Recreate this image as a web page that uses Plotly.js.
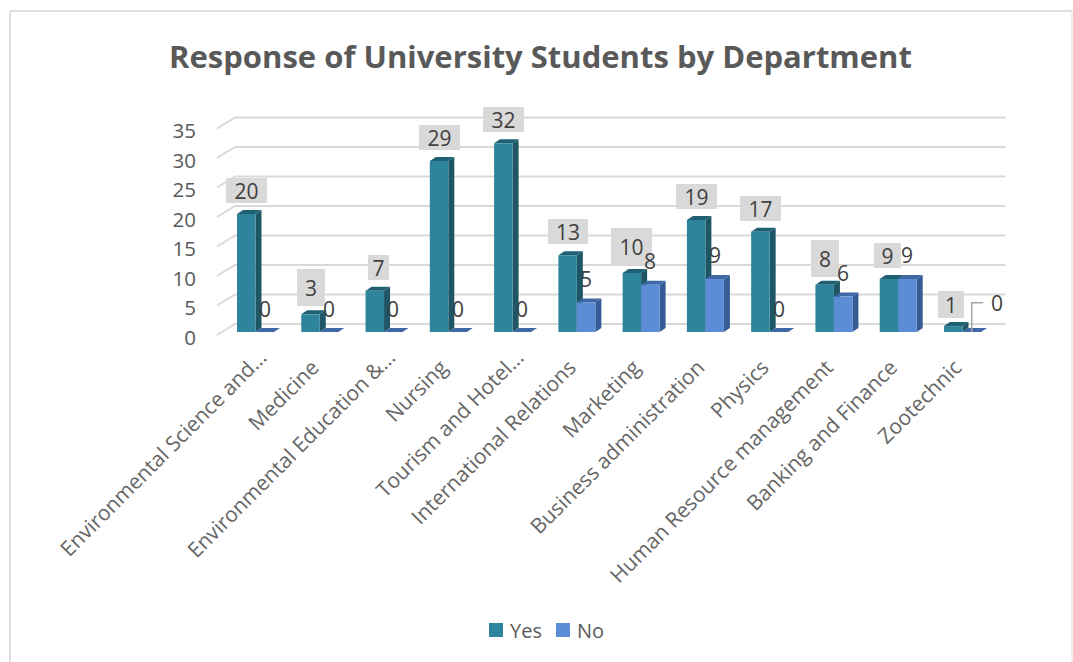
<!DOCTYPE html>
<html>
<head>
<meta charset="utf-8">
<title>Response of University Students by Department</title>
<script src="https://cdn.plot.ly/plotly-3.0.1.min.js"></script>
<style>
  html, body { margin: 0; padding: 0; background: #fff; }
  #chart { width: 1073px; height: 662px; }
</style>
</head>
<body>
<div id="chart"></div>
<script>
// Survey counts per department
const departments = [
  "Environmental Science and…", "Medicine", "Environmental Education &…", "Nursing",
  "Tourism and Hotel…", "International Relations", "Marketing", "Business administration",
  "Physics", "Human Resource management", "Banking and Finance", "Zootechnic"
];
const yesCounts = [20, 3, 7, 29, 32, 13, 10, 19, 17, 8, 9, 1];
const noCounts  = [0, 0, 0, 0, 0, 5, 8, 9, 0, 6, 9, 0];
const yTicks = [0, 5, 10, 15, 20, 25, 30, 35];
const seriesNames = ["Yes", "No"];

// Plot frame in pixels, and the pixel size of one axis unit
const frame = { left: 210, right: 1010, top: 110, bottom: 340 };
const pxPerCategory = 64.27, pxPerValue = 5.9;
const xLow = (frame.left - 255.5) / pxPerCategory;
const xHigh = xLow + (frame.right - frame.left) / pxPerCategory;
const yLow = -(frame.bottom - 332) / pxPerValue;
const yHigh = yLow + (frame.bottom - frame.top) / pxPerValue;

const barWidth = 18.5 / pxPerCategory;
const depthX = 6 / pxPerCategory, depthY = 4 / pxPerValue;      // extrusion of each bar
const wallX = 18 / pxPerCategory, wallTop = 8 / pxPerValue;     // offset of the back wall
const wallFront = -3 / pxPerValue;
const tickLabelDrop = 5.5 / pxPerValue;                         // value labels sit on the front edge

const colors = {
  yes: { front: "#2E849C", side: "#1E5666", top: "#1F6173" },
  no:  { front: "#5A8DD6", side: "#355C94", top: "#3F69A6" },
  grid: "#D9D9D9", text: "#595959", category: "#666666", label: "#404040", box: "#D9D9D9", leader: "#A6A6A6"
};

// Label box sizes for the Yes series, in category order
const boxWidths  = [41, 28, 21, 41, 41, 40, 41, 41, 41, 28, 27, 26];
const boxHeights = [25, 37, 25, 25, 25, 25, 37, 25, 25, 37, 25, 27];
const boxShiftX  = [0, 0, 3.6, 0, 0, 0, 0, 0, 0, 0, -1, -2];

const paperX = px => (px - frame.left) / (frame.right - frame.left);
const paperY = py => (frame.bottom - py) / (frame.bottom - frame.top);

function polygon(points, fill) {
  const path = points.map((p, i) => (i ? "L" : "M") + p[0] + "," + p[1]).join(" ") + " Z";
  return { type: "path", xref: "x", yref: "y", layer: "below", path: path, fillcolor: fill, line: { width: 0 } };
}

// Side and top faces of a bar, built from its category position and value
function barFaces(center, value, palette) {
  const x0 = center - barWidth / 2, x1 = center + barWidth / 2;
  return [
    polygon([[x1, 0], [x1, value], [x1 + depthX, value + depthY], [x1 + depthX, depthY]], palette.side),
    polygon([[x0, value], [x1, value], [x1 + depthX, value + depthY], [x0 + depthX, value + depthY]], palette.top)
  ];
}

const shapes = [];

// Back wall gridlines with the slanted run along the side wall
yTicks.forEach(v => {
  shapes.push({
    type: "path", xref: "x", yref: "y", layer: "below",
    path: "M" + (xHigh - 0.07) + "," + (v + wallTop) + " L" + (xLow + 25 / pxPerCategory) + "," + (v + wallTop) +
          " L" + (xLow + 25 / pxPerCategory - wallX) + "," + (v + wallFront),
    line: { color: colors.grid, width: 2 }
  });
});

departments.forEach((_, i) => {
  shapes.push(...barFaces(i - barWidth / 2, yesCounts[i], colors.yes));
});
departments.forEach((_, i) => {
  shapes.push(...barFaces(i + barWidth / 2, noCounts[i], colors.no));
});

// Outer chart border
[[10, 11, 1072, 11], [10, 11, 10, 662], [1072, 11, 1072, 662]].forEach(s => {
  shapes.push({
    type: "line", xref: "paper", yref: "paper", layer: "below",
    x0: paperX(s[0]), y0: paperY(s[1]), x1: paperX(s[2]), y1: paperY(s[3]),
    line: { color: s[0] === 1072 ? "#EFEFEF" : "#DEDEDE", width: 2 }
  });
});

const labelFont = { family: "Open Sans", size: 21, color: colors.label };

const annotations = departments.map((_, i) => ({
  x: i - barWidth / 2, y: yesCounts[i], xref: "x", yref: "y",
  text: String(yesCounts[i]), showarrow: false, font: labelFont,
  xanchor: "center", yanchor: "bottom", xshift: boxShiftX[i],
  yshift: boxHeights[i] > 25 ? 8 : 11,
  width: boxWidths[i], height: boxHeights[i], bgcolor: colors.box, borderpad: 0, borderwidth: 0
}));

// The last No label sits to the side, joined to its bar by a leader line
const leaderIndex = departments.length - 1;
departments.forEach((_, i) => {
  const isLeader = i === leaderIndex;
  annotations.push({
    x: i + barWidth / 2, y: noCounts[i], xref: "x", yref: "y",
    text: String(noCounts[i]), showarrow: false, font: labelFont,
    xanchor: "center", yanchor: "middle",
    xshift: isLeader ? 25 : 0, yshift: isLeader ? 29 : 23.5
  });
});
const leaderX = leaderIndex + barWidth / 2;
shapes.push({
  type: "path", xref: "x", yref: "y", layer: "above",
  path: "M" + leaderX + "," + noCounts[leaderIndex] +
        " L" + leaderX + "," + (noCounts[leaderIndex] + 29.3 / pxPerValue) +
        " L" + (leaderX + 11.5 / pxPerCategory) + "," + (noCounts[leaderIndex] + 29.3 / pxPerValue),
  line: { color: colors.leader, width: 1.5 }
});

// Legend row: square swatches followed by the series names
[[489, colors.yes.front, 509], [556, colors.no.front, 576]].forEach((entry, i) => {
  shapes.push({
    type: "rect", xref: "paper", yref: "paper", layer: "below",
    x0: paperX(entry[0]), x1: paperX(entry[0] + 14), y0: paperY(623), y1: paperY(637),
    fillcolor: entry[1], line: { width: 0 }
  });
  annotations.push({
    xref: "paper", yref: "paper", x: paperX(entry[2]), y: paperY(630),
    xanchor: "left", yanchor: "middle", showarrow: false, text: seriesNames[i],
    font: { family: "Open Sans", size: 20, color: colors.text }, borderpad: 0
  });
});

// Full names and shortened names hang from the axis at slightly different offsets,
// so each group gets its own axis over the same range
const isShortened = name => name.endsWith("…");
const categoryIndexes = departments.map((_, i) => i);
const fullIdx = categoryIndexes.filter(i => !isShortened(departments[i]));
const shortIdx = categoryIndexes.filter(i => isShortened(departments[i]));

const traces = [
  { type: "bar", name: seriesNames[0], x: categoryIndexes, y: yesCounts, marker: { color: colors.yes.front }, hoverinfo: "x+y" },
  { type: "bar", name: seriesNames[1], x: categoryIndexes, y: noCounts, marker: { color: colors.no.front }, hoverinfo: "x+y" },
  // Markerless carrier that keeps the second category axis on the page
  { type: "scatter", mode: "none", xaxis: "x2", yaxis: "y", x: shortIdx, y: shortIdx.map(i => yesCounts[i]), hoverinfo: "skip", showlegend: false }
];

function categoryAxis(indexes, shift, standoff) {
  return {
    type: "linear", range: [xLow, xHigh],
    tickmode: "array", tickvals: indexes, ticktext: indexes.map(i => departments[i]),
    tickangle: -45, tickfont: { family: "Open Sans", size: 21, color: colors.category },
    showgrid: false, zeroline: false, showline: false, ticks: "",
    ticklabelstandoff: standoff, ticklabelshift: shift
  };
}

const layout = {
  width: 1073, height: 662,
  paper_bgcolor: "#fff", plot_bgcolor: "rgba(0,0,0,0)",
  margin: { l: frame.left, r: 1073 - frame.right, t: frame.top, b: 662 - frame.bottom, pad: 0, autoexpand: false },
  font: { family: "Open Sans", color: colors.text },
  title: {
    text: "<b>Response of University Students by Department</b>",
    font: { family: "Open Sans", size: 31, color: colors.text },
    xref: "container", yref: "container", x: 540.5 / 1073, y: 1 - 57 / 662, xanchor: "center", yanchor: "middle"
  },
  barmode: "group",
  bargap: 1 - 2 * barWidth,
  bargroupgap: 0,
  showlegend: false,
  xaxis: categoryAxis(fullIdx, -7, 10),
  xaxis2: Object.assign(categoryAxis(shortIdx, 5, 0), { overlaying: "x", anchor: "y", side: "bottom" }),
  yaxis: {
    range: [yLow, yHigh],
    tickmode: "array", tickvals: yTicks.map(v => v - tickLabelDrop), ticktext: yTicks.map(String),
    tickfont: { family: "Open Sans", size: 20.5, color: colors.text },
    showgrid: false, zeroline: false, showline: false, ticks: "", ticklabelstandoff: 13
  },
  shapes: shapes,
  annotations: annotations
};

Plotly.newPlot("chart", traces, layout, { displayModeBar: false, responsive: false });
</script>
</body>
</html>
